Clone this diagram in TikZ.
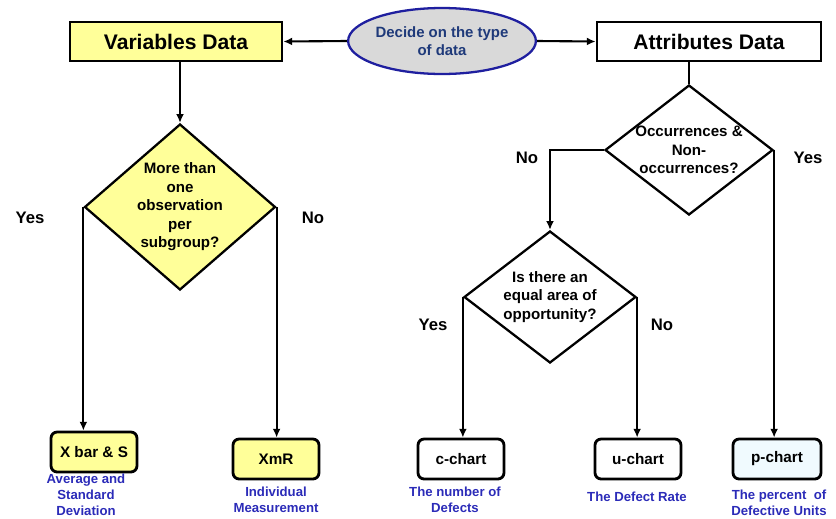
\documentclass[tikz,border=0pt]{standalone}
\usepackage{fontspec}
\setmainfont{Liberation Sans}
\usetikzlibrary{arrows.meta,shapes.geometric}
\definecolor{chartyellow}{HTML}{FFFF99}
\definecolor{ovalgrey}{HTML}{D9D9D9}
\definecolor{ovalblue}{HTML}{1F1F9F}
\definecolor{ovaltext}{HTML}{1F3A7A}
\definecolor{noteblue}{HTML}{2B2BB8}

\begin{document}
\begin{tikzpicture}[x=0.02cm, y=-0.02cm,
		>={Latex[length=5pt,width=4.5pt]},
		link/.style={line width=1.2pt},
		databox/.style={draw, line width=1.6pt, minimum height=0.78cm, font=\fontsize{12}{14}\selectfont\bfseries},
		chartbox/.style={draw, line width=1.6pt, rounded corners=3.5pt, minimum width=1.72cm, minimum height=0.8cm, font=\fontsize{8.7}{10}\selectfont\bfseries},
		decision/.style={draw, diamond, line width=1.3pt, inner sep=0pt},
		dtext/.style={align=center, font=\fontsize{8.6}{10.5}\selectfont\bfseries},
		answer/.style={font=\fontsize{9.5}{11}\selectfont\bfseries},
		note/.style={align=center, text=noteblue, font=\fontsize{7.5}{9}\selectfont\bfseries}]
		%%%%% START %%%%%
		
		\useasboundingbox (0, 0) rectangle (836, 518);
		
		\node[draw=ovalblue, fill=ovalgrey, ellipse, line width=1.3pt, minimum width=3.42cm, minimum height=1.32cm, inner sep=0pt, align=center, text=ovaltext, font=\fontsize{8.5}{10}\selectfont\bfseries] (decide) at (442, 41) {Decide on the type\\of data};
		
		\node[databox, fill=chartyellow, minimum width=4.24cm] (vardata) at (176, 41.5) {Variables Data};
		\node[databox, fill=white, minimum width=4.48cm] (attrdata) at (709, 41.5) {Attributes Data};
		
		\draw[link, ->] (decide.west) -- (vardata.east);
		\draw[link, ->] (decide.east) -- (attrdata.west);
		
		%%%%% VARIABLES %%%%%
		
		\node[decision, fill=chartyellow, minimum width=3.82cm, minimum height=3.32cm, label={[dtext]center:{More than\\one\\observation\\per\\subgroup?}}] (multobs) at (180, 207) {};
		\draw[link, ->] (multobs.north |- vardata.south) -- (multobs.north);
		
		\node[chartbox, fill=chartyellow] (xbars) at (94, 452) {X bar \& S};
		\node[chartbox, fill=chartyellow] (xmr) at (276, 459) {XmR};
		
		\draw[link, ->] (multobs.west) -- (multobs.west |- xbars.north);
		\draw[link, ->] (multobs.east) -- (multobs.east |- xmr.north);
		
		\node[answer] (multyes) at (30, 218) {Yes};
		\node[answer] (multno) at (313, 218) {No};
		
		\node[note] (xbarsnote) at (86, 495) {Average and\\Standard\\Deviation};
		\node[note] (xmrnote) at (276, 500) {Individual\\Measurement};
		
		%%%%% ATTRIBUTES %%%%%
		
		\node[decision, fill=white, minimum width=3.36cm, minimum height=2.6cm, label={[dtext]center:{Occurrences \&\\Non-\\occurrences?}}] (occur) at (689, 150) {};
		\draw[link] (occur.north |- attrdata.south) -- (occur.north);
		
		\node[decision, fill=white, minimum width=3.44cm, minimum height=2.64cm, label={[dtext]center:{Is there an\\equal area of\\opportunity?}}] (equalarea) at (550, 297) {};
		
		\node[chartbox, fill=white] (cchart) at (461, 459) {c-chart};
		\node[chartbox, fill=white] (uchart) at (638, 459) {u-chart};
		\node[chartbox, fill=cyan!6, minimum width=1.76cm] (pchart) at (777, 459) {p-chart};
		
		\draw[link, ->] (occur.west) -| (equalarea.north);
		\draw[link, ->] (occur.east) -- (occur.east |- pchart.north);
		\draw[link, ->] (equalarea.west) -- (equalarea.west |- cchart.north);
		\draw[link, ->] (equalarea.east) -- (equalarea.east |- uchart.north);
		
		\node[answer] (occurno) at (527, 158) {No};
		\node[answer] (occuryes) at (808, 158) {Yes};
		\node[answer] (equalyes) at (433, 325) {Yes};
		\node[answer] (equalno) at (662, 325) {No};
		
		\node[note] (cchartnote) at (455, 500) {The number of\\Defects};
		\node[note] (uchartnote) at (637, 497) {The Defect Rate};
		\node[note] (pchartnote) at (779, 503) {The percent \ of\\Defective Units};
		
		%%%%% END %%%%%
\end{tikzpicture}
\end{document}
